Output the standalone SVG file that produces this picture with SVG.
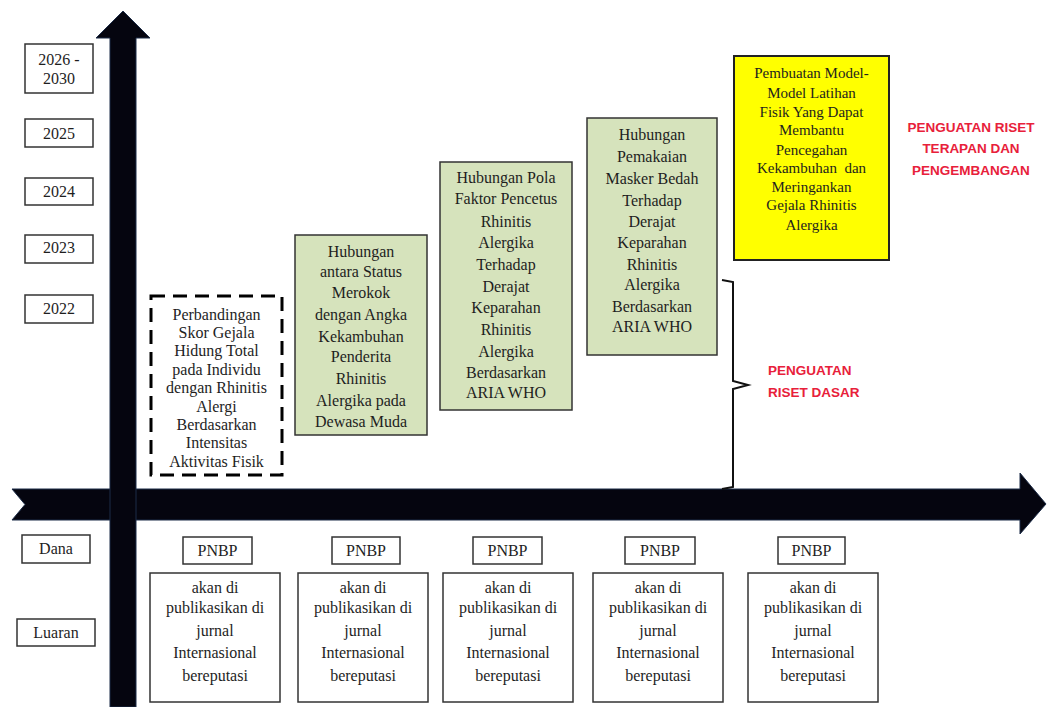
<svg xmlns="http://www.w3.org/2000/svg" width="1048" height="707" viewBox="0 0 1048 707">
<style>
.t{font-family:"Liberation Serif","Times New Roman",serif;font-size:16px;fill:#1e1e1e;text-anchor:middle}
.ty{font-size:15px}
.box{fill:#fff;stroke:#333;stroke-width:1.5}
.g{fill:#d6e3bc;stroke:#333;stroke-width:1.5}
.red{font-family:"Liberation Sans",Arial,sans-serif;font-weight:bold;font-size:13.5px;fill:#e8203a}
.arrow{fill:#05050f;stroke:#1c2c48;stroke-width:1}
</style>
<rect width="1048" height="707" fill="#fff"/>
<g id="connectors">
<path class="arrow" d="M12,489 L1020,489 L1020,473 L1046,504 L1020,534 L1020,520 L12,520 L25,504.5 Z"/>
<path class="arrow" d="M110,707 L110,38 L96,38 L123,11 L150,38 L136,38 L136,707 Z"/>
<path d="M722,280 L733,282 L733,381 L748,385 L733,389 L733,487 L722,489" fill="none" stroke="#111" stroke-width="2"/>
</g>
<g id="year-2026-2030"><rect class="box" x="25" y="44" width="68" height="49"/><text class="t" x="59" y="65">2026 -</text><text class="t" x="59" y="84">2030</text></g>
<g id="year-2025"><rect class="box" x="25" y="119" width="68" height="28"/><text class="t" x="59" y="139">2025</text></g>
<g id="year-2024"><rect class="box" x="25" y="178" width="68" height="27"/><text class="t" x="59" y="197">2024</text></g>
<g id="year-2023"><rect class="box" x="25" y="235" width="68" height="28"/><text class="t" x="59" y="253">2023</text></g>
<g id="year-2022"><rect class="box" x="25" y="295" width="68" height="28"/><text class="t" x="59" y="314">2022</text></g>
<g id="research-2022">
<rect x="151" y="296" width="131" height="179" fill="#fff" stroke="#000" stroke-width="3" stroke-dasharray="14,8"/>
<text class="t" x="216.5" y="320">Perbandingan</text>
<text class="t" x="216.5" y="338">Skor Gejala</text>
<text class="t" x="216.5" y="356">Hidung Total</text>
<text class="t" x="216.5" y="375">pada Individu</text>
<text class="t" x="216.5" y="393">dengan Rhinitis</text>
<text class="t" x="216.5" y="412">Alergi</text>
<text class="t" x="216.5" y="430">Berdasarkan</text>
<text class="t" x="216.5" y="448">Intensitas</text>
<text class="t" x="216.5" y="467">Aktivitas Fisik</text>
</g>
<g id="research-2023">
<rect class="g" x="295" y="235" width="132" height="200"/>
<text class="t" x="361" y="257">Hubungan</text>
<text class="t" x="361" y="277">antara Status</text>
<text class="t" x="361" y="298">Merokok</text>
<text class="t" x="361" y="320">dengan Angka</text>
<text class="t" x="361" y="342">Kekambuhan</text>
<text class="t" x="361" y="362">Penderita</text>
<text class="t" x="361" y="384">Rhinitis</text>
<text class="t" x="361" y="406">Alergika pada</text>
<text class="t" x="361" y="427">Dewasa Muda</text>
</g>
<g id="research-2024">
<rect class="g" x="440" y="162" width="132" height="248"/>
<text class="t" x="506" y="183">Hubungan Pola</text>
<text class="t" x="506" y="204">Faktor Pencetus</text>
<text class="t" x="506" y="227">Rhinitis</text>
<text class="t" x="506" y="248">Alergika</text>
<text class="t" x="506" y="270">Terhadap</text>
<text class="t" x="506" y="292">Derajat</text>
<text class="t" x="506" y="313">Keparahan</text>
<text class="t" x="506" y="335">Rhinitis</text>
<text class="t" x="506" y="357">Alergika</text>
<text class="t" x="506" y="378">Berdasarkan</text>
<text class="t" x="506" y="398">ARIA WHO</text>
</g>
<g id="research-2025">
<rect class="g" x="587" y="118" width="130" height="237"/>
<text class="t" x="652" y="140">Hubungan</text>
<text class="t" x="652" y="162">Pemakaian</text>
<text class="t" x="652" y="184">Masker Bedah</text>
<text class="t" x="652" y="206">Terhadap</text>
<text class="t" x="652" y="227">Derajat</text>
<text class="t" x="652" y="248">Keparahan</text>
<text class="t" x="652" y="270">Rhinitis</text>
<text class="t" x="652" y="290">Alergika</text>
<text class="t" x="652" y="312">Berdasarkan</text>
<text class="t" x="652" y="332">ARIA WHO</text>
</g>
<g id="research-2026-2030">
<rect x="734" y="56" width="155" height="204" fill="#ffff00" stroke="#222" stroke-width="2"/>
<text class="t ty" x="811.5" y="78">Pembuatan Model-</text>
<text class="t ty" x="811.5" y="98">Model Latihan</text>
<text class="t ty" x="811.5" y="117">Fisik Yang Dapat</text>
<text class="t ty" x="811.5" y="135">Membantu</text>
<text class="t ty" x="811.5" y="155">Pencegahan</text>
<text class="t ty" x="811.5" y="173" xml:space="preserve">Kekambuhan  dan</text>
<text class="t ty" x="811.5" y="192">Meringankan</text>
<text class="t ty" x="811.5" y="210">Gejala Rhinitis</text>
<text class="t ty" x="811.5" y="230">Alergika</text>
</g>
<g id="label-terapan">
<text class="red" x="971" y="132" text-anchor="middle">PENGUATAN RISET</text>
<text class="red" x="971" y="153" text-anchor="middle">TERAPAN DAN</text>
<text class="red" x="971" y="175" text-anchor="middle">PENGEMBANGAN</text>
</g>
<g id="label-dasar">
<text class="red" x="768" y="375">PENGUATAN</text>
<text class="red" x="768" y="397">RISET DASAR</text>
</g>
<g id="label-dana"><rect class="box" x="22" y="535" width="68" height="28"/><text class="t" x="56" y="554">Dana</text></g>
<g id="label-luaran"><rect class="box" x="17" y="619" width="78" height="27"/><text class="t" x="56" y="638">Luaran</text></g>
<g id="dana-1"><rect class="box" x="183" y="537" width="69" height="27"/><text class="t" x="217.5" y="556">PNBP</text></g>
<g id="dana-2"><rect class="box" x="332" y="537" width="68" height="27"/><text class="t" x="366" y="556">PNBP</text></g>
<g id="dana-3"><rect class="box" x="473" y="537" width="69" height="27"/><text class="t" x="507.5" y="556">PNBP</text></g>
<g id="dana-4"><rect class="box" x="625" y="537" width="70" height="27"/><text class="t" x="660" y="556">PNBP</text></g>
<g id="dana-5"><rect class="box" x="778" y="537" width="67" height="27"/><text class="t" x="811.5" y="556">PNBP</text></g>
<g id="luaran-1"><rect class="box" x="150" y="573" width="130" height="129"/>
<text class="t" x="215" y="593">akan di</text><text class="t" x="215" y="613">publikasikan di</text><text class="t" x="215" y="636">jurnal</text><text class="t" x="215" y="658">Internasional</text><text class="t" x="215" y="681">bereputasi</text></g>
<g id="luaran-2"><rect class="box" x="298" y="573" width="130" height="129"/>
<text class="t" x="363" y="593">akan di</text><text class="t" x="363" y="613">publikasikan di</text><text class="t" x="363" y="636">jurnal</text><text class="t" x="363" y="658">Internasional</text><text class="t" x="363" y="681">bereputasi</text></g>
<g id="luaran-3"><rect class="box" x="443" y="573" width="130" height="129"/>
<text class="t" x="508" y="593">akan di</text><text class="t" x="508" y="613">publikasikan di</text><text class="t" x="508" y="636">jurnal</text><text class="t" x="508" y="658">Internasional</text><text class="t" x="508" y="681">bereputasi</text></g>
<g id="luaran-4"><rect class="box" x="593" y="573" width="130" height="129"/>
<text class="t" x="658" y="593">akan di</text><text class="t" x="658" y="613">publikasikan di</text><text class="t" x="658" y="636">jurnal</text><text class="t" x="658" y="658">Internasional</text><text class="t" x="658" y="681">bereputasi</text></g>
<g id="luaran-5"><rect class="box" x="748" y="573" width="130" height="129"/>
<text class="t" x="813" y="593">akan di</text><text class="t" x="813" y="613">publikasikan di</text><text class="t" x="813" y="636">jurnal</text><text class="t" x="813" y="658">Internasional</text><text class="t" x="813" y="681">bereputasi</text></g>
</svg>
